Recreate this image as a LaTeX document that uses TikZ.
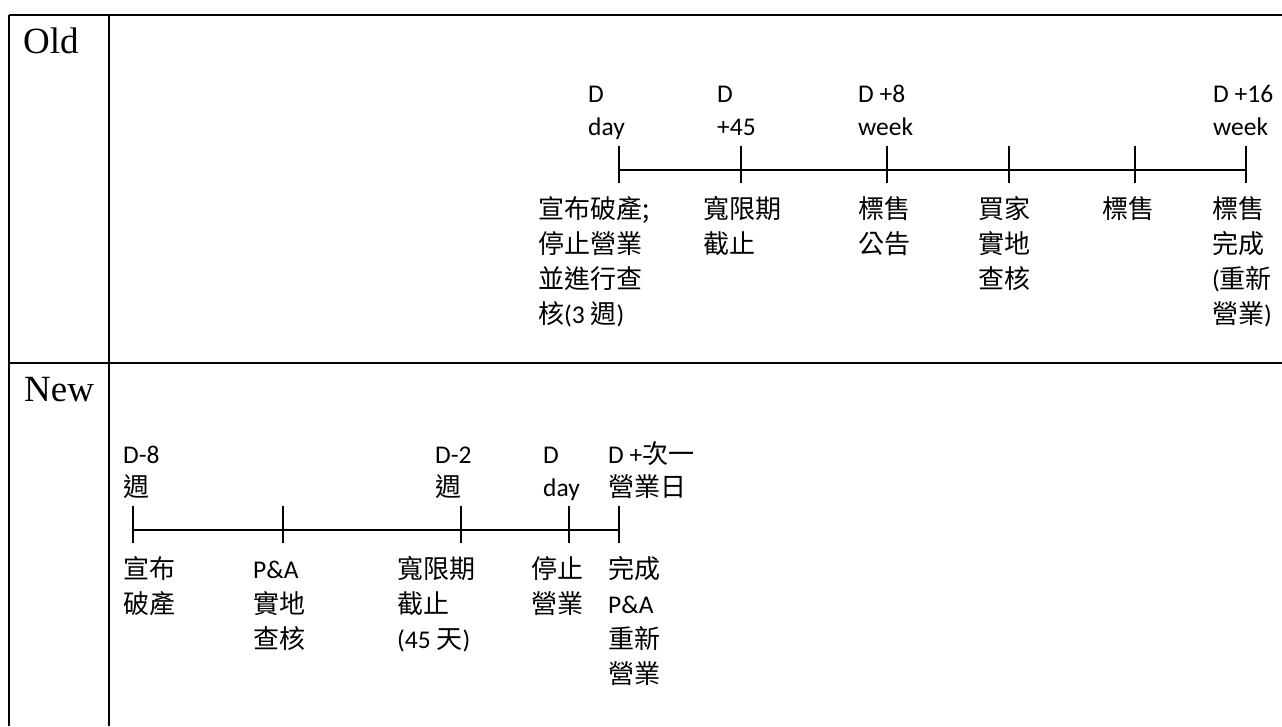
\documentclass[tikz,border=0pt]{standalone}
\usepackage{fontspec}
\setmainfont{Carlito}
\newfontfamily\cjk{Noto Sans CJK TC}[Scale=1.02]
\newfontfamily\serifrm{Liberation Serif}
\newcommand\C[1]{{\cjk #1}}
% multi-line nodes are placed by the baseline of their LAST line
\tikzset{
  frame/.style={line width=2.2pt},
  axis/.style={line width=1.8pt},
  lbl/.style={anchor=base west, inner sep=0pt, align=left, font=\fontsize{25.5}{33}\selectfont},
  desc/.style={anchor=base west, inner sep=0pt, align=left, font=\fontsize{25.5}{35}\selectfont},
  head/.style={anchor=base west, inner sep=0pt, font=\serifrm\fontsize{37}{40}\selectfont},
}
\begin{document}
\begin{tikzpicture}[x=1pt,y=-1pt]
\useasboundingbox (0,0) rectangle (1282,726);
% table frame
\coordinate (tl) at (9,15);
\coordinate (tr) at (1282,15);
\coordinate (ml) at (9,363);
\coordinate (mr) at (1282,363);
\coordinate (bl) at (9,726);
\coordinate (dt) at (109,15);
\coordinate (db) at (109,726);
\draw[frame] (tl) -- (tr);
\draw[frame] (ml) -- (mr);
\draw[frame] (tl) -- (bl);
\draw[frame] (dt) -- (db);
\node[head] (old) at (23,53) {Old};
\node[head] (new) at (24,401) {New};
% ---------- Old timeline ----------
\coordinate (o1) at (619,170);
\coordinate (o2) at (741,170);
\coordinate (o3) at (887,170);
\coordinate (o4) at (1009,170);
\coordinate (o5) at (1135,170);
\coordinate (o6) at (1246,170);
\draw[axis] (o1) -- (o6);
\foreach \t in {o1,o2,o3,o4,o5,o6}
  \draw[axis] ([yshift=24pt]\t) -- ([yshift=-13pt]\t);
\node[lbl] (ot1) at (588,135) {D\\day};
\node[lbl] (ot2) at (717,135) {D\\+45};
\node[lbl] (ot3) at (858,135) {D +8\\week};
\node[lbl] (ot4) at (1213,135) {D +16\\week};
\node[desc] (ob1) at (538,323) {\C{宣布破產;}\\\C{停止營業}\\\C{並進行查}\\\C{核}(3 \C{週})};
\node[desc] (ob2) at (703,253) {\C{寬限期}\\\C{截止}};
\node[desc] (ob3) at (858,253) {\C{標售}\\\C{公告}};
\node[desc] (ob4) at (978,288) {\C{買家}\\\C{實地}\\\C{查核}};
\node[desc] (ob5) at (1102,218) {\C{標售}};
\node[desc] (ob6) at (1212,323) {\C{標售}\\\C{完成}\\(\C{重新}\\\C{營業})};
% ---------- New timeline ----------
\coordinate (n1) at (133,530);
\coordinate (n2) at (283,530);
\coordinate (n3) at (461,530);
\coordinate (n4) at (569,530);
\coordinate (n5) at (619,530);
\draw[axis] (n1) -- (n5);
\foreach \t in {n1,n2,n3,n4,n5}
  \draw[axis] ([yshift=24pt]\t) -- ([yshift=-13pt]\t);
\node[lbl] (nt1) at (123,496) {D-8\\\C{週}};
\node[lbl] (nt2) at (435,496) {D-2\\\C{週}};
\node[lbl] (nt3) at (543,496) {D\\day};
\node[lbl] (nt4) at (608,496) {D +\C{次一}\\\C{營業日}};
\node[desc] (nb1) at (123,613) {\C{宣布}\\\C{破產}};
\node[desc] (nb2) at (253,648) {P\&A\\\C{實地}\\\C{查核}};
\node[desc] (nb3) at (397,648) {\C{寬限期}\\\C{截止}\\(45 \C{天})};
\node[desc] (nb4) at (531,613) {\C{停止}\\\C{營業}};
\node[desc] (nb5) at (608,683) {\C{完成}\\P\&A\\\C{重新}\\\C{營業}};
\end{tikzpicture}
\end{document}
